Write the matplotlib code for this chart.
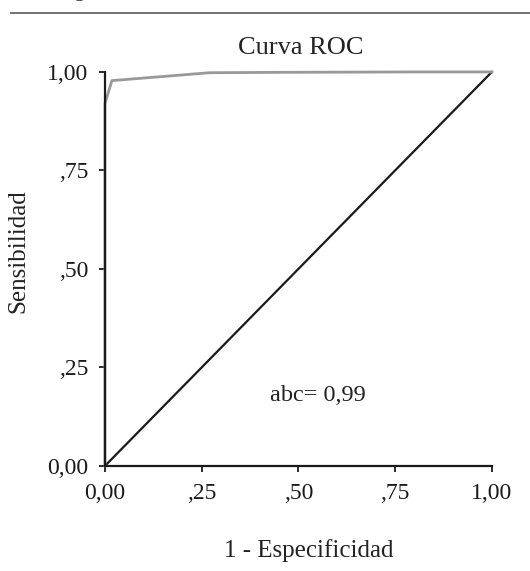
import numpy as np
import matplotlib.pyplot as plt
from matplotlib.lines import Line2D

plt.rcParams['font.family'] = ['Liberation Serif', 'DejaVu Serif']

# ROC curve
fpr = [0.0, 0.0, 0.018, 0.27, 0.45, 0.78, 1.0]
tpr = [0.0, 0.92, 0.978, 0.998, 0.999, 1.0, 1.0]
ticks = [0.0, 0.25, 0.5, 0.75, 1.0]
tick_labels = ['0,00', ',25', ',50', ',75', '1,00']
auc_text = 'abc= 0,99'

fig = plt.figure(figsize=(5.3, 5.71), dpi=100)
ax = fig.add_axes([0.198, 0.184, 0.730, 0.690])

ax.plot([0, 1], [0, 1], color='#1a1a1a', linewidth=1.6, clip_on=False)
ax.plot(fpr, tpr, color='#999999', linewidth=2.0, clip_on=False)

ax.set_xlim(0, 1)
ax.set_ylim(0, 1)
ax.set_xticks(ticks)
ax.set_xticklabels(tick_labels)
ax.set_yticks(ticks)
ax.set_yticklabels(tick_labels)
ax.tick_params(labelsize=17, length=4, width=1.3, pad=8, colors='#1a1a1a')

for s in ['top', 'right']:
    ax.spines[s].set_visible(False)
for s in ['left', 'bottom']:
    ax.spines[s].set_linewidth(1.6)
    ax.spines[s].set_color('#1a1a1a')

fig.text(301 / 530, 1 - 48 / 571, 'Curva ROC', fontsize=19, ha='center', va='center', color='#222222')
fig.text(309 / 530, 1 - 551 / 571, '1 - Especificidad', fontsize=18, ha='center', va='center', color='#222222')
fig.text(18 / 530, 1 - 251 / 571, 'Sensibilidad', fontsize=18, rotation=90,
         ha='center', va='center', color='#222222')
ax.text(0.55, 0.18, auc_text, fontsize=17.5, ha='center', va='center', color='#222222')

# page rule at the top, with the cut-off header letter above it
fig.add_artist(Line2D([0.021, 1.0], [0.977, 0.977], color='#666666', linewidth=1.3))
fig.text(80 / 530, 1.007, 'g', fontsize=16, ha='center', va='baseline', color='#333333')

fig.savefig('out.png', dpi=100)
